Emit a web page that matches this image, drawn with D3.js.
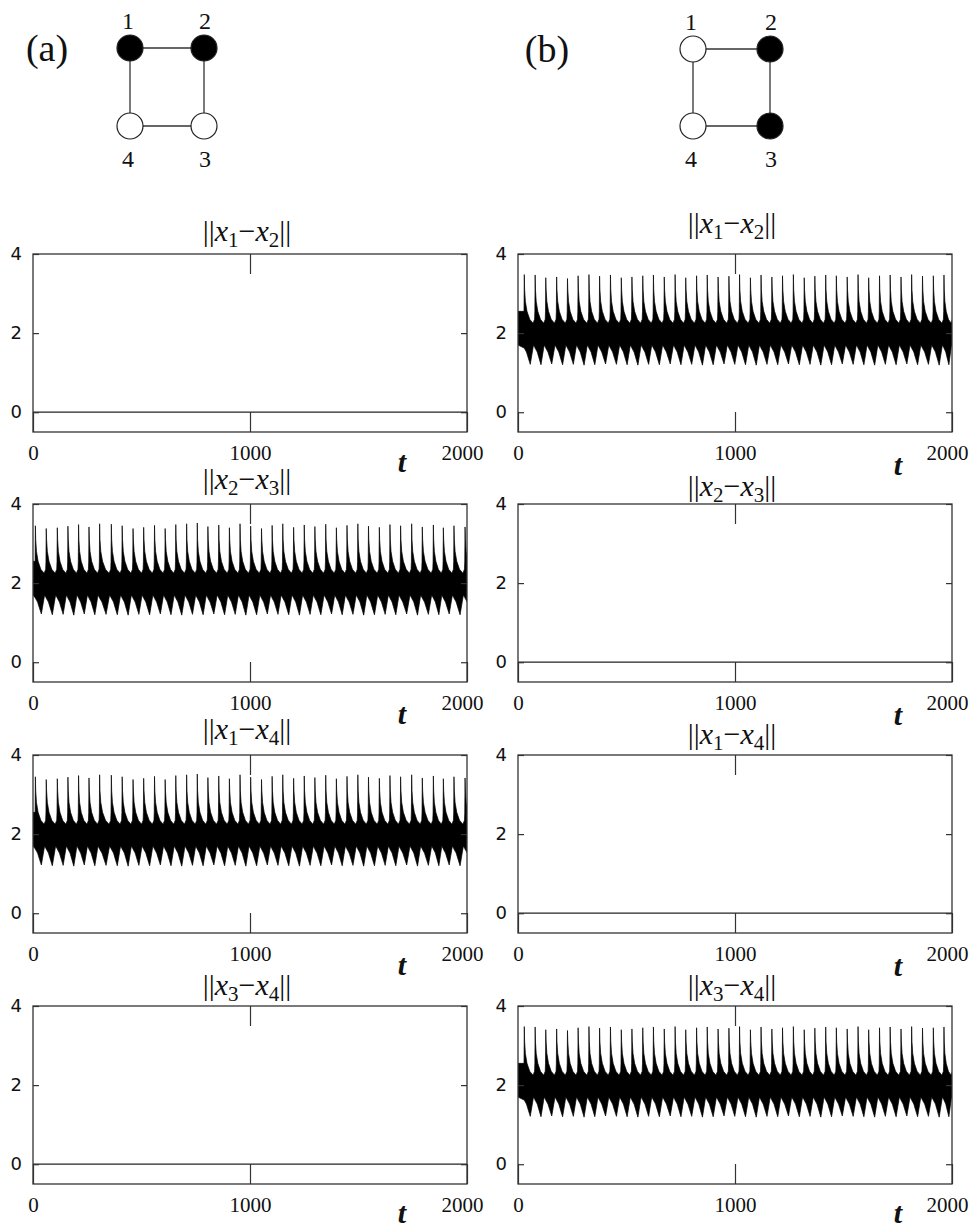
<!DOCTYPE html>
<html>
<head>
<meta charset="utf-8">
<script src="https://cdn.jsdelivr.net/npm/d3@7"></script>
<style>
  body { margin: 0; background: #fff; }
  svg { display: block; }
</style>
</head>
<body>
<svg id="fig" width="972" height="1228"></svg>
<script>
// ---- ring network: node grid positions (column, row) and cluster colouring ----
const nodeIds = [1, 2, 3, 4];
const nodeCol = [0, 1, 1, 0];
const nodeRow = [0, 0, 1, 1];
const nodeFillA = ["black", "black", "white", "white"];
const nodeFillB = ["white", "black", "black", "white"];
const ringEdges = [[1, 2], [2, 3], [3, 4], [4, 1]];

// ---- axes ----
const tDomain = [0, 2000];
const yDomain = [-0.5, 4];
const yTickValues = [0, 2, 4];
const tTickValues = [0, 1000, 2000];

// ---- panels: node pairs per row, and whether the pair is synchronised ----
const pairsA = [[1, 2], [2, 3], [1, 4], [3, 4]];
const syncA = [true, false, false, true];
const pairsB = [[1, 2], [2, 3], [1, 4], [3, 4]];
const syncB = [false, true, true, false];

// synchronised pair: distance stays at zero
const syncT = [0, 2000];
const syncV = [0, 0];

// desynchronised pair, case (a): bursts of ||x_i - x_j||
const burstTimesA = [11, 61, 112, 161, 210, 258, 307, 361, 411, 461, 510, 560, 609, 658, 708,
  757, 806, 856, 905, 954, 1003, 1053, 1102, 1151, 1201, 1250, 1299, 1349, 1398, 1447,
  1497, 1546, 1596, 1645, 1694, 1745, 1794, 1845, 1891, 1940, 1991];
const burstPeaksA = [3.45, 3.38, 3.40, 3.44, 3.48, 3.42, 3.50, 3.49, 3.45, 3.38, 3.41, 3.46,
  3.38, 3.48, 3.50, 3.52, 3.43, 3.47, 3.40, 3.50, 3.44, 3.38, 3.46, 3.50, 3.41, 3.47, 3.43,
  3.49, 3.40, 3.46, 3.50, 3.44, 3.41, 3.48, 3.45, 3.50, 3.42, 3.47, 3.40, 3.45, 3.42];
const troughsA = [1.22, 1.20, 1.21, 1.19, 1.22, 1.20, 1.21, 1.20, 1.19, 1.21, 1.20, 1.22,
  1.20, 1.19, 1.21, 1.20, 1.22, 1.20, 1.21, 1.19, 1.20, 1.22, 1.21, 1.20, 1.19, 1.21, 1.20,
  1.22, 1.20, 1.21, 1.19, 1.20, 1.21, 1.20, 1.22, 1.19, 1.21, 1.20, 1.22, 1.20, 1.21];

// desynchronised pair, case (b)
const burstTimesB = [29, 79, 128, 178, 228, 277, 327, 376, 426, 476, 525, 575, 624, 674, 724,
  773, 823, 872, 922, 972, 1021, 1071, 1120, 1170, 1219, 1269, 1319, 1368, 1418, 1467,
  1517, 1567, 1616, 1666, 1715, 1765, 1814, 1864, 1914, 1963, 2004];
const burstPeaksB = [3.48, 3.47, 3.40, 3.42, 3.38, 3.45, 3.48, 3.44, 3.47, 3.40, 3.42, 3.45,
  3.47, 3.42, 3.48, 3.40, 3.45, 3.47, 3.42, 3.44, 3.48, 3.40, 3.47, 3.42, 3.45, 3.48, 3.40,
  3.44, 3.47, 3.45, 3.42, 3.48, 3.40, 3.45, 3.47, 3.42, 3.48, 3.44, 3.45, 3.47, 3.30];
const troughsB = [1.21, 1.20, 1.22, 1.20, 1.21, 1.19, 1.20, 1.22, 1.21, 1.20, 1.19, 1.21,
  1.20, 1.22, 1.20, 1.21, 1.19, 1.20, 1.22, 1.21, 1.20, 1.19, 1.21, 1.20, 1.22, 1.20, 1.21,
  1.19, 1.20, 1.22, 1.21, 1.20, 1.19, 1.21, 1.20, 1.22, 1.20, 1.21, 1.19, 1.20, 1.21];

// profile of one burst cycle: phase within the cycle -> envelope value
const upperPhase = [0.03, 0.10, 0.25, 0.50, 0.80, 0.95];
const upperValue = [3.10, 2.80, 2.55, 2.35, 2.25, 2.35];
const lowerPhase = [0.00, 0.20, 0.85];
const lowerValue = [1.62, 1.52, 1.70];
const troughPhase = 0.55;

// ---------------------------------------------------------------------------
const svg = d3.select("#fig");
const SERIF = '"Liberation Serif", "Times New Roman", Tinos, serif';
const SANS = '"DejaVu Sans", "Liberation Sans", sans-serif';

// envelope of a burst train built from the per-burst readings
function burstEnvelope(times, peaks, troughs) {
  const upper = [], lower = [];
  upper.push([0, 2.55]);
  lower.push([0, 1.70]);
  times.forEach((s, i) => {
    const next = i < times.length - 1 ? times[i + 1] : s + (s - times[i - 1]);
    const prev = i > 0 ? times[i - 1] : s - (next - s);
    const P = next - s;
    upper.push([s - 0.025 * (s - prev), 2.55]);
    upper.push([s, peaks[i]]);
    upperPhase.forEach((p, k) => upper.push([s + p * P, upperValue[k]]));
    lowerPhase.forEach((p, k) => {
      lower.push([s + p * P, lowerValue[k]]);
      if (k === 1) lower.push([s + troughPhase * P, troughs[i]]);
    });
  });
  upper.sort((a, b) => a[0] - b[0]);
  lower.sort((a, b) => a[0] - b[0]);
  const ts = Array.from(new Set(upper.map(d => d[0]).concat(lower.map(d => d[0])))).sort((a, b) => a - b);
  const ui = d3.scaleLinear().domain(upper.map(d => d[0])).range(upper.map(d => d[1]));
  const li = d3.scaleLinear().domain(lower.map(d => d[0])).range(lower.map(d => d[1]));
  return ts.map(t => ({ t, hi: ui(t), lo: li(t) }));
}

const seriesA = burstEnvelope(burstTimesA, burstPeaksA, troughsA);
const seriesB = burstEnvelope(burstTimesB, burstPeaksB, troughsB);

// ---- panel layout ----
const colLeft = [33, 518];
const panelW = 434;
const rowTop = [254, 504, 755, 1006];
const panelH = 178;
const titleOffset = [[22, 24, 25, 20], [30, 17, 20, 20]];
const tLabelBase = [[40, 42, 42, 39], [43, 43, 43, 39]];

function drawTitle(g, cx, cy, pair) {
  const txt = g.append("text")
    .attr("x", cx).attr("y", cy + 9)
    .attr("text-anchor", "middle")
    .style("font-family", SERIF)
    .style("font-size", "30px")
    .attr("fill", "#111");
  txt.append("tspan").text("||");
  txt.append("tspan").style("font-style", "italic").text("x");
  txt.append("tspan").style("font-size", "21px").attr("dy", 6).text(pair[0]);
  txt.append("tspan").attr("dy", -6).text("\u2212");
  txt.append("tspan").style("font-style", "italic").text("x");
  txt.append("tspan").style("font-size", "21px").attr("dy", 6).text(pair[1]);
  txt.append("tspan").attr("dy", -6).text("||");
}

function drawPanel(col, row, pair, isSync, series) {
  const x0 = colLeft[col], y0 = rowTop[row];
  const x = d3.scaleLinear().domain(tDomain).range([x0, x0 + panelW]);
  const y = d3.scaleLinear().domain(yDomain).range([y0 + panelH, y0]);
  const g = svg.append("g");
  const clipId = `clip-${col}-${row}`;
  svg.append("clipPath").attr("id", clipId)
    .append("rect").attr("x", x0).attr("y", y0).attr("width", panelW).attr("height", panelH);

  if (isSync) {
    g.append("path")
      .datum(syncT.map((t, i) => ({ t, v: syncV[i] })))
      .attr("fill", "none").attr("stroke", "#222").attr("stroke-width", 1.3)
      .attr("d", d3.line().x(d => x(d.t)).y(d => y(d.v)));
  } else {
    g.append("path")
      .datum(series)
      .attr("clip-path", `url(#${clipId})`)
      .attr("fill", "#000").attr("stroke", "#000").attr("stroke-width", 0.7)
      .attr("d", d3.area().x(d => x(d.t)).y0(d => y(d.lo)).y1(d => y(d.hi)));
  }

  const styleAxis = sel => {
    sel.select(".domain").remove();
    sel.selectAll(".tick line").attr("stroke", "#333").attr("stroke-width", 1.2);
  };
  g.append("g").attr("transform", `translate(${x0},0)`)
    .call(d3.axisLeft(y).tickValues(yTickValues).tickSize(-6).tickPadding(11).tickFormat(d3.format("d")))
    .call(styleAxis)
    .call(s => s.selectAll("text").style("font-family", SANS).style("font-size", "18px").attr("fill", "#111"));
  g.append("g").attr("transform", `translate(${x0 + panelW},0)`)
    .call(d3.axisRight(y).tickValues(yTickValues).tickSize(-6).tickFormat(""))
    .call(styleAxis);
  g.append("g").attr("transform", `translate(0,${y0 + panelH})`)
    .call(d3.axisBottom(x).tickValues(tTickValues).tickSize(-20).tickPadding(13).tickFormat(d3.format("d")))
    .call(styleAxis)
    .call(s => s.selectAll("text").style("font-family", SERIF)
      .style("font-size", "21px").attr("fill", "#111")
      .attr("dx", d => d === 2000 ? -5 : 0));
  g.append("g").attr("transform", `translate(0,${y0})`)
    .call(d3.axisTop(x).tickValues([1000]).tickSize(-20).tickFormat(""))
    .call(styleAxis);

  g.append("rect").attr("x", x0).attr("y", y0).attr("width", panelW).attr("height", panelH)
    .attr("fill", "none").attr("stroke", "#333").attr("stroke-width", 1.3);

  drawTitle(g, x0 + panelW / 2 - 3, y0 - titleOffset[col][row], pair);
  g.append("text")
    .attr("x", col === 0 ? 402 : 898)
    .attr("y", y0 + panelH + tLabelBase[col][row])
    .attr("text-anchor", "middle")
    .style("font-family", SERIF).style("font-style", "italic").style("font-weight", "bold")
    .style("font-size", "30px").attr("fill", "#111")
    .text("t");
}

pairsA.forEach((p, r) => drawPanel(0, r, p, syncA[r], seriesA));
pairsB.forEach((p, r) => drawPanel(1, r, p, syncB[r], seriesB));

// ---- ring diagrams ----
function drawRing(label, labelX, colRange, rowRange, fills) {
  const cx = d3.scaleLinear().domain([0, 1]).range(colRange);
  const cy = d3.scaleLinear().domain([0, 1]).range(rowRange);
  const g = svg.append("g");
  g.append("text").attr("x", labelX).attr("y", rowRange[0] + 13)
    .attr("text-anchor", "middle")
    .style("font-family", SERIF).style("font-size", "38px")
    .attr("fill", "#111").text(label);
  const pos = id => { const i = nodeIds.indexOf(id); return [cx(nodeCol[i]), cy(nodeRow[i])]; };
  ringEdges.forEach(([a, b]) => {
    const pa = pos(a), pb = pos(b);
    g.append("line").attr("x1", pa[0]).attr("y1", pa[1]).attr("x2", pb[0]).attr("y2", pb[1])
      .attr("stroke", "#333").attr("stroke-width", 1.3);
  });
  nodeIds.forEach((id, i) => {
    const [px, py] = pos(id);
    g.append("circle").attr("cx", px).attr("cy", py).attr("r", 13)
      .attr("fill", fills[i]).attr("stroke", "#222").attr("stroke-width", 1.2);
    const above = nodeRow[i] === 0;
    g.append("text").attr("x", px - (nodeCol[i] === 0 ? 2 : -1))
      .attr("y", above ? py - 19 : py + 41)
      .attr("text-anchor", "middle")
      .style("font-family", SERIF).style("font-size", "24px")
      .attr("fill", "#111").text(id);
  });
}
drawRing("(a)", 47, [130, 204], [48, 126], nodeFillA);
drawRing("(b)", 547, [693, 770], [49, 126], nodeFillB);
</script>
</body>
</html>
